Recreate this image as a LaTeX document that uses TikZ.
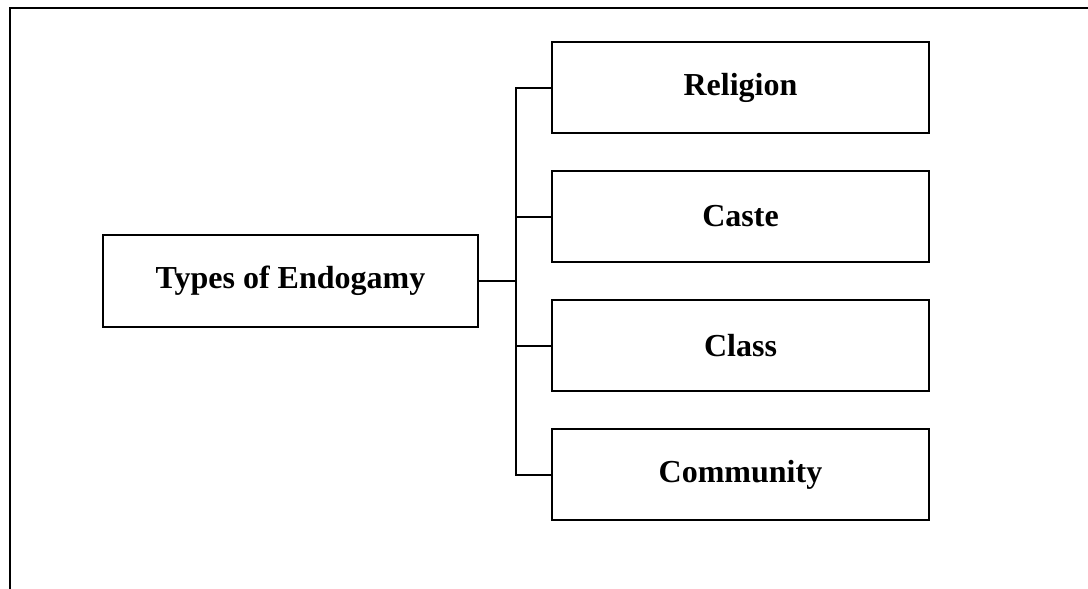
\documentclass[tikz,border=0pt]{standalone}
\usepackage{fontspec}
\setmainfont{Liberation Serif}
\usetikzlibrary{positioning}

\tikzset{
    typebox/.style={draw, line width=2pt, minimum width=377pt, minimum height=91pt,
        inner sep=0pt, font=\fontsize{32}{38}\selectfont\bfseries},
    mainbox/.style={typebox, minimum width=375pt, minimum height=92pt}
}

\begin{document}
\begin{tikzpicture}[x=1pt, y=-1pt]
        \useasboundingbox (0, 0) rectangle (1088, 589);
        \draw[line width=2.5pt] (10, 589) |- (1088, 8);

        \node (types) [mainbox] at (290.5, 281) {Types of Endogamy};
        \node (religion) [typebox] at (740.5, 87.5) {Religion};
        \node (caste) [typebox, below=36pt of religion] {Caste};
        \node (class) [typebox, below=36pt of caste] {Class};
        \node (community) [typebox, below=36pt of class] {Community};

        \draw[line width=2pt] (types.east) -- ++(37, 0) coordinate (hub);
        \draw[line width=2pt] (religion.west) -| (hub) |- (community.west);
        \draw[line width=2pt] (caste.west) -- (caste.west -| hub);
        \draw[line width=2pt] (class.west) -- (class.west -| hub);

    \end{tikzpicture}
\end{document}
